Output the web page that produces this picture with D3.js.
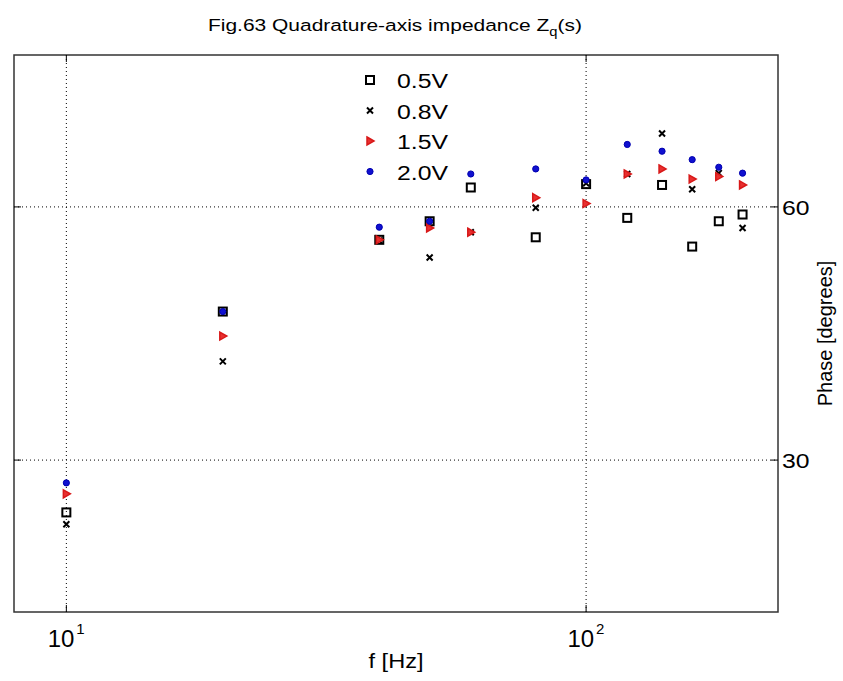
<!DOCTYPE html>
<html>
<head>
<meta charset="utf-8">
<script src="https://cdn.jsdelivr.net/npm/d3@7"></script>
<style>
  body { margin: 0; background: #fff; }
  text { font-family: "Liberation Sans", Arial, sans-serif; fill: #000; }
</style>
</head>
<body>
<div id="chart"></div>
<script>
// frequencies and phase readings for each voltage level
const freqs = [10, 20, 40, 50, 60, 80, 100, 120, 140, 160, 180, 200];
const phase05 = [23.8, 47.6, 56.1, 58.3, 62.3, 56.4, 62.7, 58.7, 62.6, 55.3, 58.3, 59.1];
const phase08 = [22.4, 41.7, 56.0, 54.0, 57.0, 59.9, 62.8, 63.9, 68.7, 62.1, 64.0, 57.5];
const phase15 = [26.0, 44.7, 56.1, 57.5, 57.0, 61.1, 60.4, 63.9, 64.5, 63.3, 63.6, 62.6];
const phase20 = [27.3, 47.6, 57.6, 58.3, 63.9, 64.5, 63.2, 67.4, 66.6, 65.6, 64.7, 64.0];
const seriesNames = ["0.5V", "0.8V", "1.5V", "2.0V"];
const xTicks = [10, 100];
const yTicks = [30, 60];

const W = 843, H = 681;
const margin = { top: 55, right: 65, bottom: 69, left: 14 };
const width = W - margin.left - margin.right;
const height = H - margin.top - margin.bottom;

// the original picture is a bit stretched sideways, so text gets a x-scale
const stretch = 1.18;

const svg = d3.select("#chart").append("svg")
    .attr("width", W)
    .attr("height", H);

const g = svg.append("g")
    .attr("transform", `translate(${margin.left},${margin.top})`);

// scales (log x, linear y on the right)
const x = d3.scaleLog().domain([7.93, 234]).range([0, width]);
const y = d3.scaleLinear().domain([12, 78]).range([height, 0]);

// dotted grid
g.selectAll(".vgrid").data(xTicks).enter().append("line")
    .attr("x1", d => x(d)).attr("x2", d => x(d))
    .attr("y1", 0).attr("y2", height)
    .attr("stroke", "#000").attr("stroke-width", 1)
    .attr("stroke-dasharray", "1,3");
g.selectAll(".hgrid").data(yTicks).enter().append("line")
    .attr("x1", 0).attr("x2", width)
    .attr("y1", d => y(d)).attr("y2", d => y(d))
    .attr("stroke", "#000").attr("stroke-width", 1)
    .attr("stroke-dasharray", "1,3");

// box
g.append("rect")
    .attr("width", width).attr("height", height)
    .attr("fill", "none").attr("stroke", "#333").attr("stroke-width", 1.5);

// inward ticks
xTicks.forEach(t => {
    g.append("line").attr("x1", x(t)).attr("x2", x(t)).attr("y1", height).attr("y2", height - 7).attr("stroke", "#000");
    g.append("line").attr("x1", x(t)).attr("x2", x(t)).attr("y1", 0).attr("y2", 7).attr("stroke", "#000");
});
yTicks.forEach(t => {
    g.append("line").attr("x1", width).attr("x2", width - 7).attr("y1", y(t)).attr("y2", y(t)).attr("stroke", "#000");
    g.append("line").attr("x1", 0).attr("x2", 7).attr("y1", y(t)).attr("y2", y(t)).attr("stroke", "#000");
});

// x tick labels as 10^n
xTicks.forEach(t => {
    g.append("text")
        .attr("transform", `translate(${x(t) + 8},${height + 35})`)
        .attr("text-anchor", "end")
        .style("font-size", "24px")
        .text("10");
    g.append("text")
        .attr("transform", `translate(${x(t) + 10},${height + 22})`)
        .style("font-size", "15px")
        .text(Math.round(Math.log10(t)));
});

// y tick labels on the right
g.selectAll(".ylab").data(yTicks).enter().append("text")
    .attr("transform", d => `translate(${width + 4},${y(d) + 8}) scale(${stretch},1)`)
    .style("font-size", "21px")
    .text(d => d);

// axis titles
g.append("text")
    .attr("transform", `translate(${width / 2},${height + 56}) scale(${stretch},1)`)
    .attr("text-anchor", "middle")
    .style("font-size", "20px")
    .text("f [Hz]");

g.append("text")
    .attr("transform", `translate(${width + 54},${y(45)}) rotate(-90)`)
    .attr("text-anchor", "middle")
    .style("font-size", "20px")
    .text("Phase [degrees]");

// title, fitted to the span it covers in the original (x 208..582)
const title = svg.append("text")
    .style("font-size", "17px");
title.append("tspan").text("Fig.63 Quadrature-axis impedance Z");
title.append("tspan").attr("dy", 5).style("font-size", "12px").text("q");
title.append("tspan").attr("dy", -5).text("(s)");
const titleLen = title.node().getComputedTextLength();
title.attr("transform", `translate(208,31) scale(${374 / titleLen},1)`);

// marker drawing
function drawMarker(sel, k) {
    if (k === 0) {
        sel.append("rect").attr("x", -4).attr("y", -4).attr("width", 8).attr("height", 8)
            .attr("fill", "none").attr("stroke", "#000").attr("stroke-width", 2);
    } else if (k === 1) {
        sel.append("path").attr("d", "M-3,-3L3,3M-3,3L3,-3")
            .attr("stroke", "#000").attr("stroke-width", 2);
    } else if (k === 2) {
        sel.append("path").attr("d", "M-3,-4L4,0L-3,4Z")
            .attr("fill", "#e83030").attr("stroke", "#d81818").attr("stroke-width", 1.5);
    } else {
        sel.append("path").attr("d", d3.symbol(d3.symbolCircle, 30)())
            .attr("fill", "#1010d0").attr("stroke", "#0000b0").attr("stroke-width", 1);
    }
}

const allSeries = [phase05, phase08, phase15, phase20];
allSeries.forEach((vals, k) => {
    g.selectAll(".pt" + k)
        .data(freqs.map((f, i) => ({ f: f, v: vals[i] })))
        .enter().append("g")
        .attr("transform", d => `translate(${x(d.f)},${y(d.v)})`)
        .each(function () { drawMarker(d3.select(this), k); });
});

// legend
const legend = svg.append("g").attr("transform", "translate(370,80)");
seriesNames.forEach((name, k) => {
    const row = legend.append("g").attr("transform", `translate(0,${k * 30.5})`);
    drawMarker(row, k);
    row.append("text")
        .attr("transform", `translate(27,8) scale(${stretch},1)`)
        .style("font-size", "21px")
        .text(name);
});
</script>
</body>
</html>
